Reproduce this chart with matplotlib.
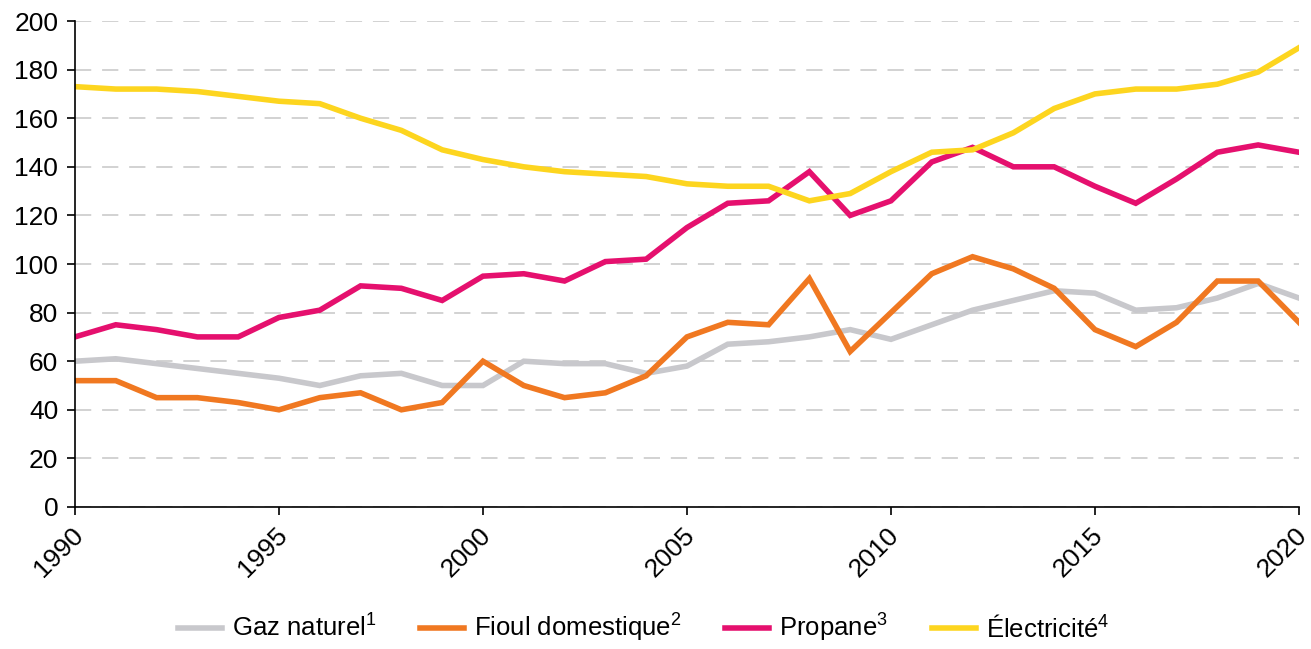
import numpy as np
import matplotlib
matplotlib.use('Agg')
from matplotlib import pyplot as plt
from matplotlib.transforms import ScaledTranslation

plt.rcParams['font.family'] = ['Liberation Sans', 'DejaVu Sans']
plt.rcParams['mathtext.fontset'] = 'custom'
plt.rcParams['mathtext.rm'] = 'Liberation Sans'
plt.rcParams['mathtext.it'] = 'Liberation Sans'

years = list(range(1990, 2021))

gaz = [60, 61, 59, 57, 55, 53, 50, 54, 55, 50, 50, 60, 59, 59, 55, 58,
       67, 68, 70, 73, 69, 75, 81, 85, 89, 88, 81, 82, 86, 92, 86]
fioul = [52, 52, 45, 45, 43, 40, 45, 47, 40, 43, 60, 50, 45, 47, 54, 70,
         76, 75, 94, 64, 80, 96, 103, 98, 90, 73, 66, 76, 93, 93, 76]
propane = [70, 75, 73, 70, 70, 78, 81, 91, 90, 85, 95, 96, 93, 101, 102, 115,
           125, 126, 138, 120, 126, 142, 148, 140, 140, 132, 125, 135, 146, 149, 146]
elec = [173, 172, 172, 171, 169, 167, 166, 160, 155, 147, 143, 140, 138, 137, 136, 133,
        132, 132, 126, 129, 138, 146, 147, 154, 164, 170, 172, 172, 174, 179, 189]

labels = ['Gaz naturel$^{1}$', 'Fioul domestique$^{2}$', 'Propane$^{3}$', 'Électricité$^{4}$']
colors = ['#c8c8cc', '#f07821', '#e5106e', '#fdd51f']

fig = plt.figure(figsize=(13.11, 6.49), dpi=100)
ax = fig.add_axes([0.0572, 0.2188, 0.9336, 0.7488])

for vals, lab, col in zip([gaz, fioul, propane, elec], labels, colors):
    ax.plot(years, vals, color=col, lw=4.0, label=lab, solid_joinstyle='miter')

ax.set_xlim(1990, 2020)
ax.set_ylim(0, 200)
ax.set_yticks(range(0, 201, 20))
ax.set_xticks(range(1990, 2021, 5))
ax.yaxis.grid(True, color='#cfcfcf', linestyle=(0, (9, 6)), lw=1.3)
ax.set_axisbelow(True)

for s in ['top', 'right']:
    ax.spines[s].set_visible(False)
ax.spines['left'].set_linewidth(1.2)
ax.spines['bottom'].set_linewidth(1.2)
ax.tick_params(axis='both', length=6, width=1.2, labelsize=19)
ax.tick_params(axis='y', pad=6)
ax.tick_params(axis='x', pad=4)

# small nudge left so the last year stays inside the figure
nudge = ScaledTranslation(-4 / 100, -2 / 100, fig.dpi_scale_trans)
for lbl in ax.get_xticklabels():
    lbl.set_rotation(45)
    lbl.set_ha('right')
    lbl.set_rotation_mode('anchor')
    lbl.set_transform(lbl.get_transform() + nudge)

fig.legend(loc='lower center', bbox_to_anchor=(0.491, -0.028), ncol=4, frameon=False,
           fontsize=18.5, handlelength=1.7, handletextpad=0.4, columnspacing=1.7)

fig.savefig('out.png', dpi=100)
